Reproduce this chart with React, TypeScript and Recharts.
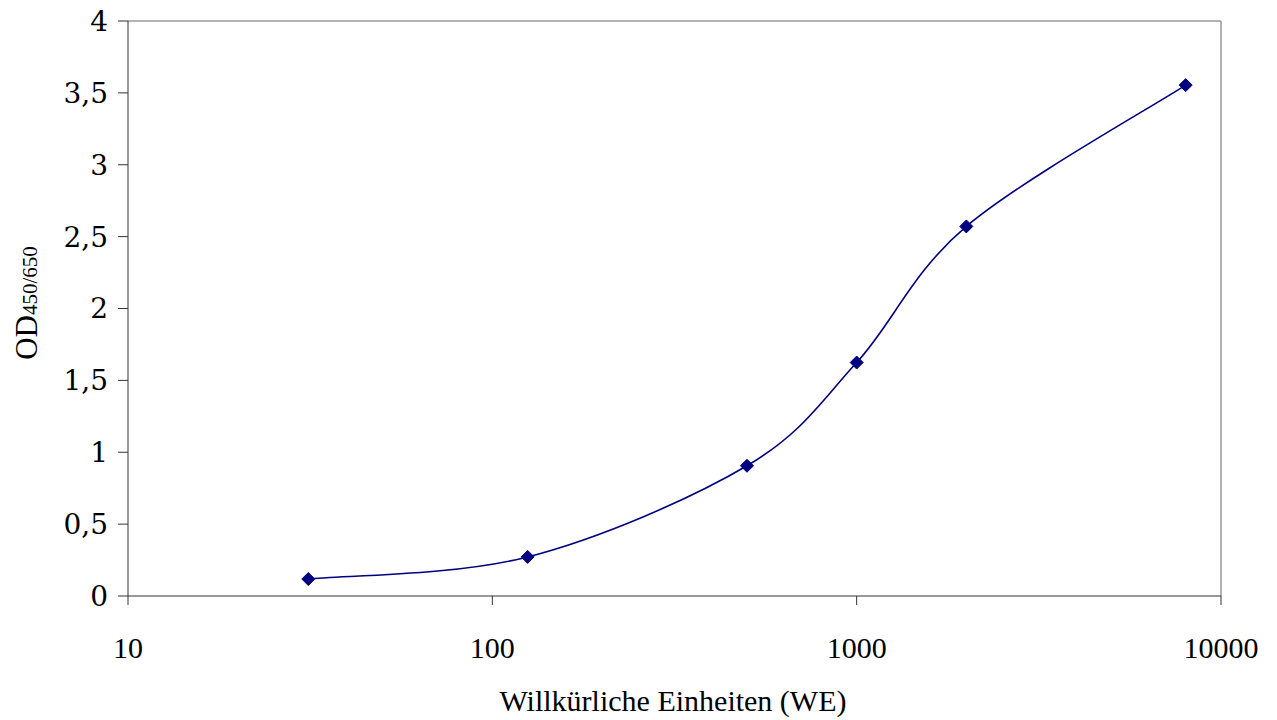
import React from 'react';
import { LineChart, Line, XAxis, YAxis, ReferenceLine, Label } from 'recharts';

const concentrations = [31.25, 125, 500, 1000, 2000, 8000];
const odValues = [0.118, 0.272, 0.906, 1.624, 2.571, 3.554];
const xTicks = [10, 100, 1000, 10000];
const yTicks = [0, 0.5, 1, 1.5, 2, 2.5, 3, 3.5, 4];

const data = concentrations.map((x, i) => ({ x, y: odValues[i] }));

const NAVY = '#000080';

// Excel-like smoothing (Catmull-Rom converted to cubic Bezier)
const excelCurve = (context: any) => {
  let pts: number[][] = [];
  return {
    areaStart() {},
    areaEnd() {},
    lineStart() {
      pts = [];
    },
    point(x: number, y: number) {
      pts.push([+x, +y]);
    },
    lineEnd() {
      if (!pts.length) return;
      context.moveTo(pts[0][0], pts[0][1]);
      for (let i = 0; i < pts.length - 1; i++) {
        const p0 = pts[Math.max(i - 1, 0)];
        const p1 = pts[i];
        const p2 = pts[i + 1];
        const p3 = pts[Math.min(i + 2, pts.length - 1)];
        context.bezierCurveTo(
          p1[0] + (p2[0] - p0[0]) / 6,
          p1[1] + (p2[1] - p0[1]) / 6,
          p2[0] - (p3[0] - p1[0]) / 6,
          p2[1] - (p3[1] - p1[1]) / 6,
          p2[0],
          p2[1]
        );
      }
    },
  };
};

const Diamond = (props: any) => {
  const { cx, cy, index } = props;
  if (cx == null || cy == null) return <g key={index} />;
  const r = 6.5;
  return (
    <polygon
      key={index}
      points={`${cx},${cy - r} ${cx + r},${cy} ${cx},${cy + r} ${cx - r},${cy}`}
      fill={NAVY}
      stroke={NAVY}
    />
  );
};

const YLabel = () => (
  <text
    x={37}
    y={303}
    transform="rotate(-90, 37, 303)"
    textAnchor="middle"
    fill="#000"
    style={{ fontFamily: 'Liberation Serif' }}
  >
    <tspan fontSize={31}>OD</tspan>
    <tspan fontSize={21}>450/650</tspan>
  </text>
);

const XLabel = () => (
  <text
    x={673}
    y={711}
    textAnchor="middle"
    fill="#000"
    fontSize={30}
    style={{ fontFamily: 'Liberation Serif' }}
  >
    Willkürliche Einheiten (WE)
  </text>
);

const fmt = (v: number) => String(v).replace('.', ',');

export default function App() {
  return (
    <div style={{ position: 'absolute', left: 0, top: 0, background: '#fff' }}>
      <LineChart
        width={1277}
        height={720}
        data={data}
        margin={{ top: 21, right: 56, bottom: 0, left: 0 }}
      >
        <XAxis
          dataKey="x"
          type="number"
          scale="log"
          domain={[10, 10000]}
          ticks={xTicks}
          allowDataOverflow
          height={124}
          stroke="#333"
          tickSize={9}
          tickMargin={32}
          tick={{ fill: '#000', fontSize: 30, fontFamily: 'Liberation Serif' }}
          interval={0}
        >
          <Label content={<XLabel />} />
        </XAxis>
        <YAxis
          type="number"
          domain={[0, 4]}
          ticks={yTicks}
          width={128}
          stroke="#333"
          tickSize={10}
          tickMargin={10}
          tickFormatter={fmt}
          tick={{ fill: '#000', fontSize: 28, fontFamily: 'DejaVu Serif' }}
          interval={0}
        >
          <Label content={<YLabel />} />
        </YAxis>
        <ReferenceLine y={4} stroke="#999" strokeWidth={1.5} />
        <ReferenceLine x={10000} stroke="#999" strokeWidth={1.5} />
        <Line
          dataKey="y"
          type={excelCurve as any}
          stroke={NAVY}
          strokeWidth={1.6}
          dot={<Diamond />}
          activeDot={false}
          isAnimationActive={false}
        />
      </LineChart>
    </div>
  );
}
